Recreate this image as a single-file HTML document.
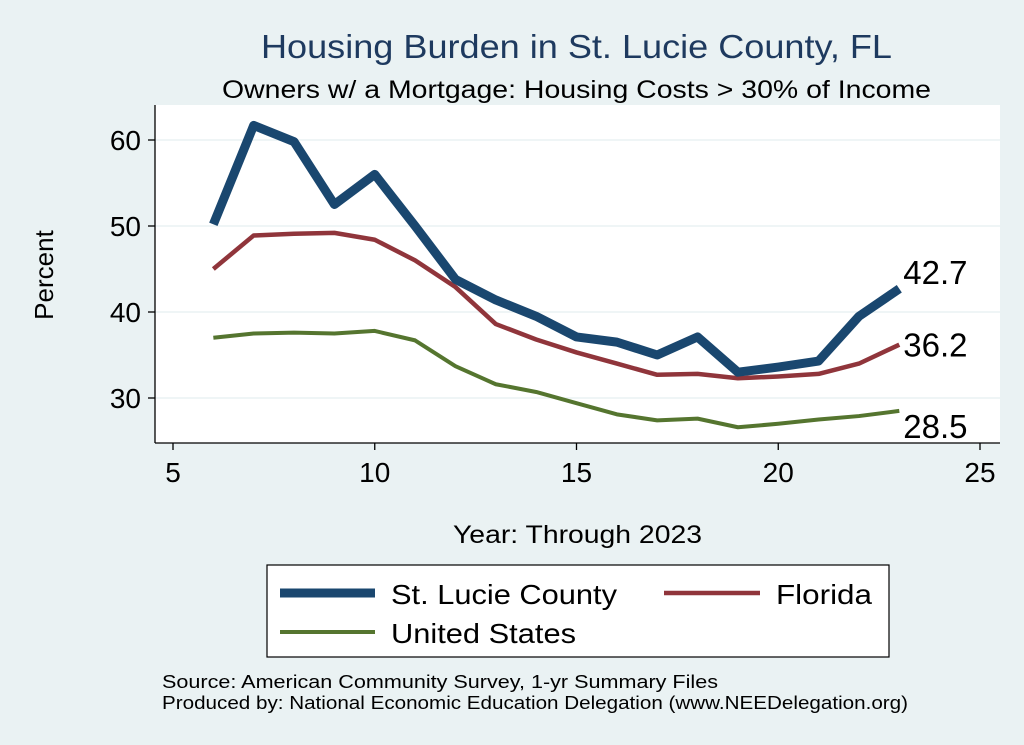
<!DOCTYPE html>
<html><head><meta charset="utf-8"><style>
body{margin:0;background:#eaf2f3;}
svg{display:block;font-family:"Liberation Sans",Arial,sans-serif;}
</style></head><body>
<svg width="1024" height="745">
<rect x="0" y="0" width="1024" height="745" fill="#eaf2f3"/>
<text x="261" y="58" font-size="33" fill="#1e3a5f" textLength="631" lengthAdjust="spacingAndGlyphs">Housing Burden in St. Lucie County, FL</text>
<text x="222" y="98" font-size="25" fill="#000" textLength="709" lengthAdjust="spacingAndGlyphs">Owners w/ a Mortgage: Housing Costs &gt; 30% of Income</text>
<rect x="155" y="105" width="845" height="338" fill="#fff"/>
<g id="grid"></g>
<line x1="155" y1="105" x2="155" y2="443" stroke="#000" stroke-width="1.3"/>
<line x1="155" y1="443" x2="1000" y2="443" stroke="#000" stroke-width="1.3"/>
<g id="ticks"></g>
<g id="series"></g>
<text x="53" y="275" font-size="26" text-anchor="middle" transform="rotate(-90 53 275)">Percent</text>
<text x="453" y="543" font-size="25" textLength="249" lengthAdjust="spacingAndGlyphs">Year: Through 2023</text>
<g>
<rect x="267" y="565" width="622" height="92" fill="#fff" stroke="#000" stroke-width="1.2"/>
<line x1="280" y1="593" x2="375" y2="593" stroke="#1a476f" stroke-width="9"/>
<text x="391" y="604" font-size="28" textLength="226" lengthAdjust="spacingAndGlyphs">St. Lucie County</text>
<line x1="664" y1="593" x2="760" y2="593" stroke="#90353b" stroke-width="4.5"/>
<text x="776" y="604" font-size="28" textLength="96" lengthAdjust="spacingAndGlyphs">Florida</text>
<line x1="280" y1="632" x2="375" y2="632" stroke="#55752f" stroke-width="4"/>
<text x="391" y="643" font-size="28" textLength="185" lengthAdjust="spacingAndGlyphs">United States</text>
</g>
<text x="162" y="688" font-size="18" textLength="556" lengthAdjust="spacingAndGlyphs">Source: American Community Survey, 1-yr Summary Files</text>
<text x="162" y="709" font-size="18" textLength="746" lengthAdjust="spacingAndGlyphs">Produced by: National Economic Education Delegation (www.NEEDelegation.org)</text>
</svg>
<script>
const years=[6,7,8,9,10,11,12,13,14,15,16,17,18,19,20,21,22,23];
const stLucie=[50.2,61.7,59.8,52.5,56.0,50.0,43.8,41.4,39.5,37.1,36.5,35.0,37.1,33.0,33.6,34.3,39.5,42.7];
const florida=[45.0,48.9,49.1,49.2,48.4,46.0,42.9,38.6,36.8,35.3,34.0,32.7,32.8,32.3,32.5,32.8,34.0,36.2];
const usa=[37.0,37.5,37.6,37.5,37.8,36.7,33.7,31.6,30.7,29.4,28.1,27.4,27.6,26.6,27.0,27.5,27.9,28.5];
const xTicks=[5,10,15,20,25];
const yTicks=[30,40,50,60];
const NS="http://www.w3.org/2000/svg";
const X=v=>173+(v-5)*40.35;
const Y=v=>398-(v-30)*8.6;
function mk(t,a,p){const e=document.createElementNS(NS,t);for(const k in a)e.setAttribute(k,a[k]);p.appendChild(e);return e;}
const grid=document.getElementById('grid'),ticks=document.getElementById('ticks'),ser=document.getElementById('series');
yTicks.forEach(v=>{
 const g=mk('line',{x1:155,x2:1000,y1:Y(v),y2:Y(v),stroke:'#eaf2f3','stroke-width':1.5},grid);
 
 
 const t=mk('line',{x1:148,x2:155,y1:Y(v),y2:Y(v),stroke:'#000','stroke-width':1.3},ticks);
 
 
 const l=mk('text',{x:141,y:Y(v)+10,'font-size':28,'text-anchor':'end'},ticks);l.textContent=v;
 
 
});
xTicks.forEach(v=>{
 const t=mk('line',{x1:X(v),x2:X(v),y1:443,y2:450,stroke:'#000','stroke-width':1.3},ticks);
 
 
 const l=mk('text',{x:X(v),y:482,'font-size':28,'text-anchor':'middle'},ticks);l.textContent=v;
 
 
});
function line(vals,col,w,name,dy){
 const d=vals.map((v,i)=>(i?'L':'M')+X(years[i])+' '+Y(v)).join(' ');
 const p=mk('path',{d:d,fill:'none',stroke:col,'stroke-width':w,'stroke-linejoin':'round'},ser);
 
 
 const last=vals[vals.length-1];
 const l=mk('text',{x:X(23)+4,y:Y(last)+dy,'font-size':33},ser);l.textContent=last.toFixed(1);
 
 
}
line(usa,'#55752f',4,'united-states',27);
line(florida,'#90353b',4.5,'florida',12);
line(stLucie,'#1a476f',9,'st-lucie',-5);
</script>
</body></html>
